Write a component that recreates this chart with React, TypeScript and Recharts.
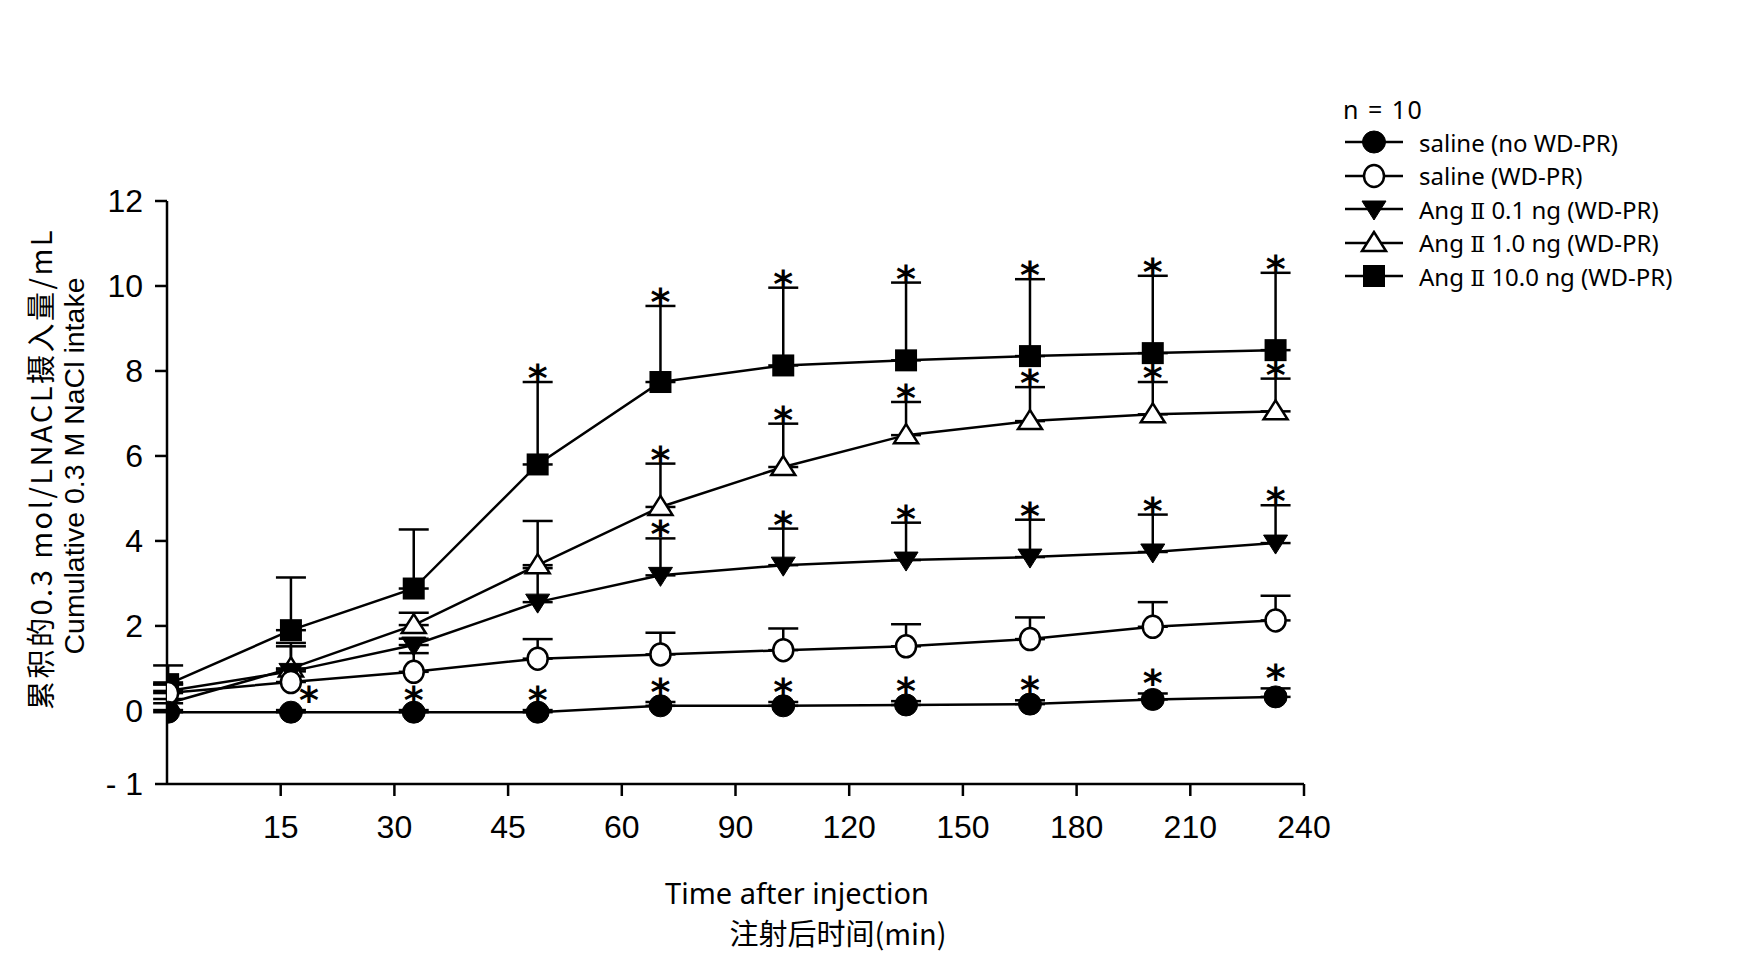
import { ComposedChart, Line, XAxis, YAxis, ErrorBar } from 'recharts';

// where the ten sampling points sit on the printed time axis (tick units)
const POINT_X = [0.01, 1.09, 2.17, 3.26, 4.34, 5.42, 6.5, 7.59, 8.67, 9.75];
const TIME_TICKS = [1, 2, 3, 4, 5, 6, 7, 8, 9, 10];
const TIME_LABELS = ['15', '30', '45', '60', '90', '120', '150', '180', '210', '240'];
const Y_TICKS = [-1.72, 0, 2, 4, 6, 8, 10, 12];

const SALINE_NO = [-0.03, -0.03, -0.03, -0.03, 0.12, 0.12, 0.14, 0.16, 0.27, 0.33];
const SALINE_NO_ERR = [0.05, 0.05, 0.05, 0.05, 0.09, 0.09, 0.09, 0.09, 0.14, 0.2];
const SALINE_NO_STAR = [0, 1, 1, 1, 1, 1, 1, 1, 1, 1];

const SALINE_WD = [0.42, 0.68, 0.92, 1.23, 1.33, 1.43, 1.52, 1.69, 1.98, 2.13];
const SALINE_WD_ERR = [0.2, 0.3, 0.44, 0.46, 0.51, 0.51, 0.52, 0.51, 0.58, 0.58];
const SALINE_WD_STAR = [0, 0, 0, 0, 0, 0, 0, 0, 0, 0];

const ANG_01 = [0.47, 0.93, 1.55, 2.56, 3.19, 3.43, 3.55, 3.62, 3.74, 3.95];
const ANG_01_ERR = [0.2, 0.59, 0.15, 0.8, 0.87, 0.86, 0.88, 0.88, 0.88, 0.89];
const ANG_01_STAR = [0, 0, 0, 0, 1, 1, 1, 1, 1, 1];

const ANG_1 = [0.18, 1.0, 2.02, 3.43, 4.8, 5.74, 6.49, 6.82, 6.98, 7.05];
const ANG_1_ERR = [0.1, 0.6, 0.29, 1.04, 1.02, 1.02, 0.78, 0.8, 0.76, 0.77];
const ANG_1_STAR = [0, 0, 0, 0, 1, 1, 1, 1, 1, 1];

const ANG_10 = [0.63, 1.9, 2.88, 5.8, 7.74, 8.13, 8.25, 8.35, 8.42, 8.49];
const ANG_10_ERR = [0.44, 1.24, 1.39, 1.94, 1.79, 1.83, 1.83, 1.81, 1.82, 1.82];
const ANG_10_STAR = [0, 0, 0, 1, 1, 1, 1, 1, 1, 1];

type Shape = 'circleFilled' | 'circleOpen' | 'triDown' | 'triUp' | 'square';

const SERIES: Array<{
  key: string;
  dose: string | null;
  name: string;
  shape: Shape;
  values: number[];
  errors: number[];
  stars: number[];
  starGap: number;
}> = [
  { key: 'ang10', dose: '10.0 ng (WD-PR)', name: '', shape: 'square', values: ANG_10, errors: ANG_10_ERR, stars: ANG_10_STAR, starGap: 13 },
  { key: 'ang1', dose: '1.0 ng (WD-PR)', name: '', shape: 'triUp', values: ANG_1, errors: ANG_1_ERR, stars: ANG_1_STAR, starGap: 13 },
  { key: 'ang01', dose: '0.1 ng (WD-PR)', name: '', shape: 'triDown', values: ANG_01, errors: ANG_01_ERR, stars: ANG_01_STAR, starGap: 13 },
  { key: 'salWd', dose: null, name: 'saline (WD-PR)', shape: 'circleOpen', values: SALINE_WD, errors: SALINE_WD_ERR, stars: SALINE_WD_STAR, starGap: 13 },
  { key: 'salNo', dose: null, name: 'saline (no WD-PR)', shape: 'circleFilled', values: SALINE_NO, errors: SALINE_NO_ERR, stars: SALINE_NO_STAR, starGap: 19 },
];

const LEGEND_ORDER = ['salNo', 'salWd', 'ang01', 'ang1', 'ang10'];

const chartData = POINT_X.map((x, i) => {
  const row: Record<string, any> = { x };
  SERIES.forEach((s) => {
    row[s.key] = s.values[i];
    row[s.key + 'Err'] = [0, s.errors[i]];
    row[s.key + 'Star'] = s.stars[i] ? s.values[i] + s.errors[i] : null;
  });
  return row;
});

const SW = 2.5;

function Marker({ cx, cy, shape }: { cx?: number; cy?: number; shape: Shape }) {
  if (cx == null || cy == null) return <g />;
  switch (shape) {
    case 'circleFilled':
      return <ellipse cx={cx} cy={cy} rx={11.5} ry={11} fill="#000" stroke="#000" strokeWidth={1} />;
    case 'circleOpen':
      return <ellipse cx={cx} cy={cy} rx={10} ry={11} fill="#fff" stroke="#000" strokeWidth={SW} />;
    case 'triDown':
      return (
        <polygon
          points={`${cx - 12},${cy - 8} ${cx + 12},${cy - 8} ${cx},${cy + 11}`}
          fill="#000"
          stroke="#000"
          strokeWidth={1}
        />
      );
    case 'triUp':
      return (
        <polygon
          points={`${cx},${cy - 11} ${cx - 12},${cy + 8} ${cx + 12},${cy + 8}`}
          fill="#fff"
          stroke="#000"
          strokeWidth={SW}
        />
      );
    default:
      return <rect x={cx - 11} y={cy - 11} width={22} height={22} fill="#000" />;
  }
}

function Star({ cx, cy, index, gap, shift }: { cx?: number; cy?: number; index?: number; gap: number; shift: boolean }) {
  if (cx == null || cy == null || Number.isNaN(cy)) return <g />;
  // the first star of the saline group sits beside its dot
  const dx = shift && index === 1 ? 18 : 0;
  return (
    <text
      x={cx + dx}
      y={cy - gap + 22}
      textAnchor="middle"
      fontSize={38}
      fontWeight="bold"
      fontFamily="'DejaVu Sans', sans-serif"
      fill="#000"
    >
      *
    </text>
  );
}

function LegendIcon({ shape }: { shape: Shape }) {
  return (
    <svg width={62} height={26} style={{ display: 'block' }}>
      <line x1={2} y1={13} x2={60} y2={13} stroke="#000" strokeWidth={SW} />
      <Marker cx={31} cy={13} shape={shape} />
    </svg>
  );
}

export default function App() {
  return (
    <div style={{ position: 'absolute', left: 0, top: 0, width: 1740, height: 971, background: '#fff' }}>
      <ComposedChart
        width={1740}
        height={971}
        data={chartData}
        margin={{ top: 201, right: 436, bottom: 127, left: 87 }}
      >
        <XAxis
          dataKey="x"
          type="number"
          domain={[0, 10]}
          allowDataOverflow
          ticks={TIME_TICKS}
          interval={0}
          tickFormatter={(v: number) => TIME_LABELS[v - 1] ?? ''}
          height={60}
          axisLine={{ stroke: '#000', strokeWidth: SW }}
          tickLine={{ stroke: '#000', strokeWidth: SW }}
          tickSize={12}
          tickMargin={19}
          tick={{ fontSize: 32, fill: '#000', fontFamily: "'Liberation Sans', Arial, sans-serif" }}
        />
        <YAxis
          type="number"
          domain={[-1.72, 12]}
          allowDataOverflow
          ticks={Y_TICKS}
          interval={0}
          tickFormatter={(v: number) => (v < -1 ? '- 1' : String(v))}
          width={80}
          axisLine={{ stroke: '#000', strokeWidth: SW }}
          tickLine={{ stroke: '#000', strokeWidth: SW }}
          tickSize={12}
          tickMargin={12}
          tick={{ fontSize: 32, fill: '#000', fontFamily: "'Liberation Sans', Arial, sans-serif" }}
        />
        {SERIES.map((s) => (
          <Line
            key={s.key}
            dataKey={s.key}
            stroke="#000"
            strokeWidth={SW}
            isAnimationActive={false}
            activeDot={false}
            dot={(p: any) => <Marker key={`${s.key}-${p.index}`} cx={p.cx} cy={p.cy} shape={s.shape} />}
          >
            <ErrorBar
              dataKey={s.key + 'Err'}
              direction="y"
              width={15}
              stroke="#000"
              strokeWidth={SW}
              isAnimationActive={false}
            />
          </Line>
        ))}
        {SERIES.map((s) => (
          <Line
            key={s.key + 'Star'}
            dataKey={s.key + 'Star'}
            stroke="none"
            isAnimationActive={false}
            activeDot={false}
            dot={(p: any) => (
              <Star
                key={`${s.key}-star-${p.index}`}
                cx={p.cx}
                cy={p.value == null ? undefined : p.cy}
                index={p.index}
                gap={s.starGap}
                shift={s.key === 'salNo'}
              />
            )}
          />
        ))}
      </ComposedChart>

      {/* axis titles */}
      <div
        style={{
          position: 'absolute',
          left: 39,
          top: 469,
          transform: 'translate(-50%, -50%) rotate(-90deg)',
          whiteSpace: 'nowrap',
          fontFamily: "'Noto Sans CJK SC', sans-serif",
          fontSize: 29,
          letterSpacing: 2.5,
          color: '#000',
        }}
      >
        累积的0.3 mol/LNACL摄入量/mL
      </div>
      <div
        style={{
          position: 'absolute',
          left: 74,
          top: 466,
          transform: 'translate(-50%, -50%) rotate(-90deg)',
          whiteSpace: 'nowrap',
          fontFamily: "'Liberation Sans', Arial, sans-serif",
          fontSize: 28.5,
          color: '#000',
        }}
      >
        Cumulative 0.3 M NaCl intake
      </div>
      <div
        style={{
          position: 'absolute',
          left: 797,
          top: 892,
          transform: 'translate(-50%, -50%)',
          whiteSpace: 'nowrap',
          fontFamily: "'Noto Sans', sans-serif",
          fontSize: 29,
          color: '#000',
        }}
      >
        Time after injection
      </div>
      <div
        style={{
          position: 'absolute',
          left: 838,
          top: 932,
          transform: 'translate(-50%, -50%)',
          whiteSpace: 'nowrap',
          fontFamily: "'Noto Sans CJK SC', sans-serif",
          fontSize: 29,
          color: '#000',
        }}
      >
        注射后时间(min)
      </div>

      {/* legend */}
      <div
        style={{
          position: 'absolute',
          left: 1343,
          top: 94,
          fontFamily: "'Noto Sans', sans-serif",
          fontSize: 25,
          letterSpacing: 1.5,
          lineHeight: '30px',
          color: '#000',
        }}
      >
        n = 10
      </div>
      {LEGEND_ORDER.map((k, i) => {
        const s = SERIES.find((x) => x.key === k)!;
        return (
          <div
            key={k}
            style={{
              position: 'absolute',
              left: 1343,
              top: 128 + i * 33.5,
              height: 28,
              display: 'flex',
              alignItems: 'center',
              fontFamily: "'Noto Sans', sans-serif",
              fontSize: 24,
              color: '#000',
              whiteSpace: 'nowrap',
            }}
          >
            <LegendIcon shape={s.shape} />
            {s.dose ? (
              <span style={{ marginLeft: 14 }}>
                Ang <span style={{ fontFamily: "'DejaVu Serif', serif", fontSize: 22 }}>Ⅱ</span> {s.dose}
              </span>
            ) : (
              <span style={{ marginLeft: 14 }}>{s.name}</span>
            )}
          </div>
        );
      })}
    </div>
  );
}
